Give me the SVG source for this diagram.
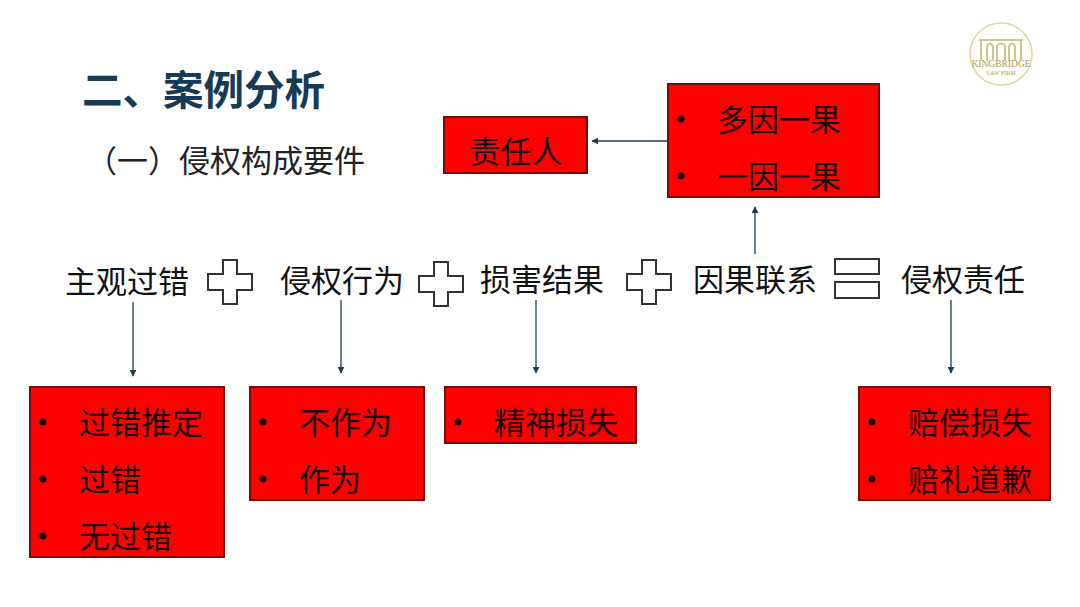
<svg xmlns="http://www.w3.org/2000/svg" width="1080" height="607" viewBox="0 0 1080 607">
<style>
text{font-family:"Noto Sans CJK SC","Liberation Sans",sans-serif}
.t{font-size:31px;fill:#111;text-anchor:middle;dominant-baseline:central}
.b{font-size:31px;fill:#1a0505;dominant-baseline:central}
.box{fill:#fe0000;stroke:#7a0a0a;stroke-width:2}
.sym{fill:#fff;stroke:#333;stroke-width:2}
.c{stroke:#1f3d50;stroke-width:1.3;fill:none;marker-end:url(#a)}
.dot{fill:#1a0505}
.logo{fill:none;stroke:#cfc595}
.lt{font-family:"Liberation Serif",serif;fill:#a89c62;text-anchor:middle}
</style>
<defs><marker id="a" viewBox="0 0 10 10" refX="9" refY="5" markerWidth="7" markerHeight="7" markerUnits="userSpaceOnUse" orient="auto"><path d="M0 0L10 5L0 10Z" fill="#1f3d50"/></marker>
<path id="plus" d="M-7-22H7V-8H22V8H7V22H-7V8H-22V-8H-7Z"/></defs>
<rect width="1080" height="607" fill="#fff"/>
<g id="logo"><circle cx="1001" cy="54" r="31" fill="#fffef8" stroke="#ddd5aa" stroke-width="1.500"/>
<path class="logo" stroke-width="2" d="M979 40H1023M981 40V60M1021 40V60M987 60V46Q990 41 993 46V60M997 60V46Q1001 41 1005 46V60M1009 60V46Q1012 41 1015 46V60"/>
<text class="lt" x="1001" y="67" font-size="9.500">KINGBRIDGE</text>
<text class="lt" x="1001" y="75" font-size="6">LAW FIRM</text></g>
<g id="title"><text x="82" y="105" font-size="40.500" font-weight="700" fill="#173a55">二、案例分析</text></g>
<g id="subtitle"><text x="86" y="172" font-size="31" fill="#222">（一）侵权构成要件</text></g>
<g id="connectors">
<line class="c" x1="667" y1="141" x2="592" y2="141"/>
<line class="c" x1="755" y1="254" x2="755" y2="207"/>
<line class="c" x1="133" y1="302" x2="133" y2="376"/>
<line class="c" x1="341" y1="300" x2="341" y2="373"/>
<line class="c" x1="536" y1="300" x2="536" y2="373"/>
<line class="c" x1="951" y1="300" x2="951" y2="373"/>
</g>
<g id="n-zrr"><rect class="box" x="444" y="117" width="143" height="56"/><text class="t" x="516" y="149">责任人</text></g>
<g id="n-yg"><rect class="box" x="668" y="84" width="211" height="113"/><circle class="dot" cx="681" cy="119" r="3.500"/><circle class="dot" cx="681" cy="176" r="3.500"/><text class="b" x="717" y="117">多因一果</text><text class="b" x="717" y="174">一因一果</text></g>
<g id="n-zg"><text class="t" x="127" y="279">主观过错</text></g>
<g id="p1"><use href="#plus" class="sym" x="230" y="282"/></g>
<g id="n-qq"><text class="t" x="342" y="278">侵权行为</text></g>
<g id="p2"><use href="#plus" class="sym" x="441" y="284"/></g>
<g id="n-sh"><text class="t" x="542" y="277">损害结果</text></g>
<g id="p3"><use href="#plus" class="sym" x="649" y="282"/></g>
<g id="n-lx"><text class="t" x="755" y="277">因果联系</text></g>
<g id="eq"><rect class="sym" x="835" y="259" width="44" height="15"/><rect class="sym" x="835" y="282" width="44" height="16"/></g>
<g id="n-zr"><text class="t" x="963" y="277">侵权责任</text></g>
<g id="n-gc"><rect class="box" x="30" y="387" width="194" height="170"/><circle class="dot" cx="43" cy="422" r="3.500"/><circle class="dot" cx="43" cy="479" r="3.500"/><circle class="dot" cx="43" cy="536" r="3.500"/><text class="b" x="79" y="420">过错推定</text><text class="b" x="79" y="477">过错</text><text class="b" x="79" y="534">无过错</text></g>
<g id="n-zw"><rect class="box" x="250" y="387" width="174" height="113"/><circle class="dot" cx="263" cy="422" r="3.500"/><circle class="dot" cx="263" cy="479" r="3.500"/><text class="b" x="299" y="420">不作为</text><text class="b" x="299" y="477">作为</text></g>
<g id="n-js"><rect class="box" x="445" y="387" width="191" height="56"/><circle class="dot" cx="458" cy="422" r="3.500"/><text class="b" x="494" y="420">精神损失</text></g>
<g id="n-pc"><rect class="box" x="859" y="387" width="191" height="113"/><circle class="dot" cx="872" cy="422" r="3.500"/><circle class="dot" cx="872" cy="479" r="3.500"/><text class="b" x="908" y="420">赔偿损失</text><text class="b" x="908" y="477">赔礼道歉</text></g>
</svg>
